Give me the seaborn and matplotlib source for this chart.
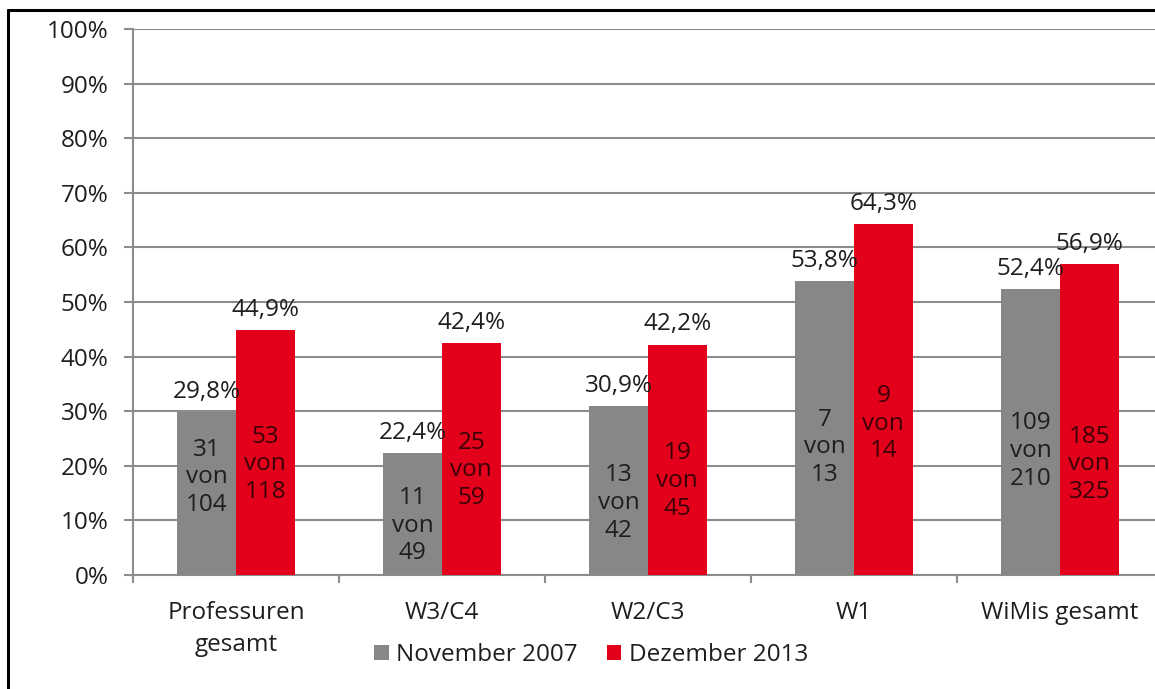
import matplotlib
matplotlib.use("Agg")
import matplotlib.pyplot as plt
from matplotlib.patches import Patch
from matplotlib.lines import Line2D
from matplotlib.ticker import FixedLocator
import seaborn as sns
import pandas as pd

categories = ["Professuren\ngesamt", "W3/C4", "W2/C3", "W1", "WiMis gesamt"]
series = ["November 2007", "Dezember 2013"]
pct_2007 = [29.8, 22.4, 30.9, 53.8, 52.4]
pct_2013 = [44.9, 42.4, 42.2, 64.3, 56.9]
num_2007 = [31, 11, 13, 7, 109]
den_2007 = [104, 49, 42, 13, 210]
num_2013 = [53, 25, 19, 9, 185]
den_2013 = [118, 59, 45, 14, 325]
# vertical centre (in % units) of the "x von y" labels inside the bars
inner_y_2007 = [17.9, 9.0, 13.2, 23.4, 22.7]
inner_y_2013 = [20.3, 19.2, 17.2, 27.7, 20.3]
yticks = list(range(0, 101, 10))

GRAY = "#878787"
RED = "#E2001A"
GRID = "#8C8C8C"
TXT = "#1E1E1E"
FS = 17.5

sns.set_theme(style="white")
plt.rcParams["font.family"] = ["Open Sans", "DejaVu Sans"]

df = pd.DataFrame({
    "Kategorie": categories * 2,
    "Serie": [series[0]] * 5 + [series[1]] * 5,
    "Anteil": pct_2007 + pct_2013,
})

fig = plt.figure(figsize=(11.55, 6.89), dpi=100)
ax = fig.add_axes([133 / 1155, 1 - 575 / 689, 1030 / 1155, 546 / 689])

sns.barplot(data=df, x="Kategorie", y="Anteil", hue="Serie", order=categories,
            hue_order=series, palette=[GRAY, RED], width=0.57, saturation=1,
            linewidth=0, edgecolor="none", ax=ax, zorder=3)
if ax.get_legend() is not None:
    ax.get_legend().remove()

ax.set_ylim(0, 100)
ax.set_xlim(-0.5, 4.5)
ax.set_yticks(yticks)
ax.set_yticklabels([f"{t}%" for t in yticks])
ax.set_xlabel("")
ax.set_ylabel("")

ax.yaxis.grid(True, color=GRID, linewidth=1.5, zorder=0)
ax.set_axisbelow(True)
for s in ["top", "right"]:
    ax.spines[s].set_visible(False)
for s in ["left", "bottom"]:
    ax.spines[s].set_color(GRID)
    ax.spines[s].set_linewidth(1.5)

ax.tick_params(axis="y", length=6.5, width=1.5, color=GRID, pad=11,
               labelsize=FS, labelcolor=TXT, left=True)
ax.tick_params(axis="x", which="major", length=0, pad=19, labelsize=FS, labelcolor=TXT)
ax.xaxis.set_minor_locator(FixedLocator([i - 0.5 for i in range(len(categories) + 1)]))
ax.tick_params(axis="x", which="minor", length=6, width=1.5, color=GRID, bottom=True)
for lbl in ax.get_xticklabels():
    lbl.set_linespacing(1.45)

def fmt(v):
    return f"{v:.1f}".replace(".", ",") + "%"

containers = ax.containers
datasets = [
    (pct_2007, num_2007, den_2007, inner_y_2007, TXT),
    (pct_2013, num_2013, den_2013, inner_y_2013, "#3A0006"),
]
for cont, (pcts, nums, dens, iy, icol) in zip(containers, datasets):
    for bar, p, n, d, y in zip(cont.patches, pcts, nums, dens, iy):
        cx = bar.get_x() + bar.get_width() / 2
        ax.annotate(fmt(p), (cx, p), xytext=(0, 14.5), textcoords="offset points",
                    ha="center", va="center", fontsize=FS, color=TXT, zorder=5)
        ax.text(cx, y, f"{n}\nvon\n{d}", ha="center", va="center", fontsize=FS,
                color=icol, linespacing=1.2, zorder=5)

handles = [Patch(facecolor=GRAY, edgecolor="none"), Patch(facecolor=RED, edgecolor="none")]
fig.legend(handles, series, loc="center", bbox_to_anchor=(591 / 1155, 1 - 655 / 689),
           ncol=2, frameon=False, fontsize=FS, handlelength=0.6, handleheight=0.6,
           handletextpad=0.3, columnspacing=1.2, labelcolor=TXT)

# outer frame (only left and top edges are visible in the crop)
fig.add_artist(Line2D([8 / 1155, 8 / 1155], [0, 1 - 10 / 689], transform=fig.transFigure,
                      color="black", linewidth=2.2))
fig.add_artist(Line2D([8 / 1155, 1], [1 - 10 / 689, 1 - 10 / 689], transform=fig.transFigure,
                      color="black", linewidth=2.2))

fig.savefig("out.png", dpi=100)
